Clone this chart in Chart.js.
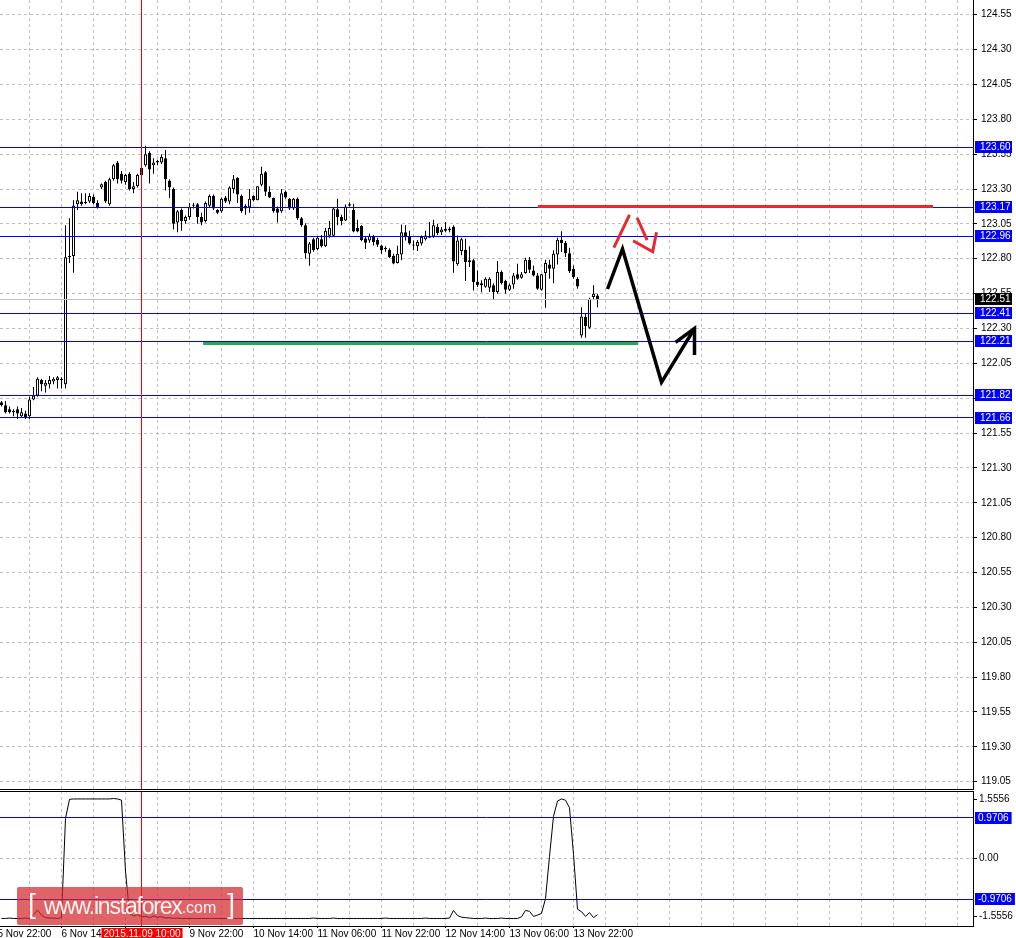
<!DOCTYPE html>
<html>
<head>
<meta charset="utf-8">
<title>USDJPY H1</title>
<script src="https://cdn.jsdelivr.net/npm/chart.js@4.4.0/dist/chart.umd.min.js"></script>
<style>
  html, body { margin: 0; padding: 0; background: #fff; }
  #wrap { position: relative; width: 1016px; height: 938px; overflow: hidden; }
  #priceBox { position: absolute; left: 0; top: 0; width: 1016px; height: 790px; }
  #indBox { position: absolute; left: 0; top: 790px; width: 1016px; height: 148px; }
  .stamp {
    position: absolute; left: 17px; top: 887px; width: 226px; height: 38px;
    background: rgba(212, 40, 44, 0.72); border-radius: 2px;
    color: #fff3f3; font-family: "Liberation Sans", Arial, sans-serif;
    display: flex; align-items: center; white-space: nowrap;
  }
  .stamp .br { font-size: 28px; font-weight: 300; margin: 0 8px 4px 11px; }
  .stamp .www { font-size: 23px; letter-spacing: -1.2px; }
  .stamp .com { font-size: 16px; margin-top: 4px; }
</style>
</head>
<body>
<div id="wrap">
  <div id="priceBox"><canvas id="priceChart"></canvas></div>
  <div id="indBox"><canvas id="indChart"></canvas></div>
  <div class="stamp"><span class="br">[</span><span class="www">www.instaforex</span><span class="com">.com</span><span class="br">]</span></div>
</div>
<script>
// hourly candles, 5 Nov 23:00 .. 16 Nov 04:00
const opens = [
  121.77,121.75,121.72,121.71,121.72,121.67,121.69,121.67,121.79,121.82,
  121.93,121.89,121.90,121.92,121.93,121.93,121.90,122.81,122.82,123.19,
  123.21,123.20,123.21,123.245,123.20,123.31,123.35,123.19,123.37,123.49,
  123.41,123.35,123.41,123.30,123.32,123.45,123.47,123.56,123.47,123.49,
  123.49,123.52,123.36,123.30,123.06,123.15,123.07,123.10,123.18,123.19,
  123.10,123.07,123.18,123.25,123.15,123.14,123.24,123.21,123.30,123.38,
  123.25,123.18,123.17,123.25,123.22,123.33,123.42,123.28,123.235,123.16,
  123.14,123.28,123.23,123.16,123.23,123.09,123.04,122.835,122.94,122.87,
  122.94,122.89,122.965,122.965,123.155,123.10,123.075,123.18,123.15,123.02,
  123.035,122.945,122.93,122.965,122.935,122.895,122.875,122.865,122.82,122.77,
  122.83,122.99,122.96,122.90,122.89,122.91,122.94,122.95,122.96,123.03,
  122.99,123.00,123.015,123.03,122.76,122.855,122.865,122.79,122.79,122.633,
  122.625,122.60,122.592,122.609,122.561,122.704,122.64,122.578,122.616,122.688,
  122.664,122.697,122.793,122.716,122.68,122.578,122.697,122.759,122.728,122.831,
  122.936,122.912,122.84,122.728,122.656,122.25,122.382,122.305,122.525,122.537
];
const highs = [
  121.78,121.78,121.74,121.72,121.74,121.73,121.71,121.81,121.88,121.95,
  121.94,121.93,121.96,121.95,121.96,121.95,123.04,123.09,123.22,123.28,
  123.27,123.27,123.27,123.26,123.22,123.34,123.36,123.38,123.48,123.50,
  123.43,123.41,123.42,123.35,123.41,123.46,123.61,123.57,123.52,123.51,
  123.55,123.58,123.37,123.31,123.15,123.16,123.11,123.20,123.20,123.20,
  123.13,123.21,123.26,123.26,123.155,123.24,123.25,123.32,123.40,123.385,
  123.26,123.19,123.30,123.255,123.32,123.46,123.43,123.32,123.24,123.175,
  123.30,123.29,123.235,123.235,123.24,123.10,123.055,122.92,122.95,122.955,
  122.97,123.02,123.07,123.17,123.23,123.115,123.19,123.205,123.195,123.08,
  123.04,122.955,122.98,122.97,122.95,122.90,122.89,122.875,122.835,122.893,
  123.045,123.04,123.00,122.93,122.935,122.967,123.00,123.063,123.08,123.05,
  123.027,123.063,123.03,123.04,122.967,122.95,122.943,122.89,122.80,122.716,
  122.645,122.668,122.668,122.625,122.783,122.716,122.649,122.621,122.697,122.764,
  122.704,122.807,122.812,122.752,122.697,122.692,122.793,122.793,122.86,122.95,
  122.998,122.927,122.879,122.752,122.668,122.453,122.406,122.52,122.609,122.549
];
const lows = [
  121.74,121.69,121.69,121.67,121.65,121.66,121.65,121.65,121.785,121.81,
  121.85,121.84,121.87,121.90,121.87,121.87,121.87,122.77,122.70,123.15,
  123.18,123.19,123.20,123.19,123.16,123.30,123.20,123.18,123.36,123.34,
  123.34,123.33,123.29,123.27,123.31,123.39,123.46,123.34,123.41,123.47,
  123.48,123.29,123.235,123.01,122.99,123.00,123.05,123.08,123.16,123.05,
  123.04,123.06,123.17,123.15,123.12,123.13,123.20,123.19,123.27,123.20,
  123.13,123.115,123.13,123.21,123.22,123.32,123.25,123.235,123.13,123.06,
  123.13,123.23,123.15,123.15,123.08,123.03,122.80,122.75,122.85,122.86,
  122.88,122.885,122.95,122.96,123.04,123.04,123.07,123.175,122.99,122.99,
  122.925,122.87,122.915,122.895,122.885,122.835,122.85,122.805,122.76,122.765,
  122.79,122.93,122.90,122.86,122.855,122.895,122.93,122.95,122.95,122.97,
  122.97,122.99,122.99,122.70,122.75,122.825,122.64,122.74,122.573,122.597,
  122.56,122.592,122.561,122.506,122.549,122.616,122.549,122.568,122.585,122.649,
  122.656,122.692,122.697,122.673,122.578,122.573,122.449,122.656,122.625,122.759,
  122.848,122.812,122.697,122.656,122.585,122.233,122.233,122.298,122.506,122.453
];
const closes = [
  121.75,121.70,121.70,121.70,121.69,121.70,121.66,121.79,121.82,121.94,
  121.90,121.91,121.93,121.94,121.95,121.94,122.81,122.82,123.18,123.22,
  123.19,123.205,123.25,123.20,123.17,123.335,123.21,123.37,123.47,123.37,
  123.36,123.40,123.30,123.32,123.40,123.40,123.55,123.44,123.49,123.50,
  123.53,123.37,123.31,123.05,123.14,123.07,123.10,123.17,123.185,123.10,
  123.06,123.20,123.25,123.16,123.13,123.23,123.21,123.31,123.37,123.26,
  123.14,123.16,123.23,123.22,123.32,123.41,123.28,123.24,123.14,123.13,
  123.27,123.24,123.16,123.23,123.09,123.04,122.84,122.91,122.86,122.95,
  122.89,123.00,123.02,123.16,123.10,123.07,123.175,123.19,122.995,122.995,
  122.935,122.915,122.965,122.92,122.90,122.86,122.87,122.81,122.765,122.835,
  122.99,122.96,122.91,122.895,122.92,122.955,122.967,122.965,123.04,122.985,
  123.01,123.015,123.005,122.78,122.93,122.94,122.775,122.776,122.633,122.609,
  122.609,122.656,122.656,122.561,122.704,122.625,122.578,122.609,122.68,122.656,
  122.688,122.793,122.721,122.68,122.585,122.688,122.769,122.728,122.836,122.936,
  122.912,122.84,122.711,122.668,122.601,122.386,122.315,122.513,122.549,122.506
];
// lower oscillator, one value per candle
const oscillator = [
  -1.42,-1.42,-1.41,-1.42,-1.42,-1.42,-1.41,-1.42,-1.33,-1.22,
  -1.34,-1.40,-1.41,-1.41,-1.42,-1.40,0.95,1.40,1.41,1.41,
  1.41,1.41,1.41,1.41,1.41,1.41,1.41,1.41,1.42,1.41,
  1.38,-0.30,-1.30,-1.36,-1.33,-1.38,-1.37,-1.40,-1.36,-1.39,
  -1.38,-1.41,-1.40,-1.42,-1.41,-1.42,-1.42,-1.42,-1.42,-1.42,
  -1.42,-1.42,-1.42,-1.42,-1.42,-1.42,-1.42,-1.42,-1.42,-1.42,
  -1.42,-1.42,-1.42,-1.42,-1.42,-1.42,-1.42,-1.42,-1.42,-1.42,
  -1.42,-1.42,-1.42,-1.42,-1.42,-1.42,-1.42,-1.42,-1.41,-1.42,
  -1.42,-1.42,-1.42,-1.41,-1.42,-1.42,-1.42,-1.42,-1.42,-1.42,
  -1.42,-1.42,-1.42,-1.42,-1.42,-1.42,-1.41,-1.42,-1.42,-1.42,
  -1.42,-1.42,-1.42,-1.42,-1.42,-1.42,-1.41,-1.42,-1.42,-1.42,
  -1.42,-1.42,-1.41,-1.23,-1.35,-1.39,-1.40,-1.41,-1.42,-1.42,
  -1.42,-1.41,-1.42,-1.42,-1.42,-1.41,-1.42,-1.42,-1.42,-1.42,
  -1.38,-1.23,-1.25,-1.37,-1.34,-1.30,-0.95,0.05,1.00,1.36,
  1.41,1.38,1.20,0.10,-1.20,-1.26,-1.37,-1.28,-1.40,-1.33
];

const priceTicks = [119.05,119.30,119.55,119.80,120.05,120.30,120.55,120.80,121.05,121.30,121.55,
  121.80,122.05,122.30,122.55,122.80,123.05,123.30,123.55,123.80,124.05,124.30,124.55];
const levels = [123.60, 123.17, 122.96, 122.41, 122.21, 121.82, 121.66];
const lastPrice = 122.51;
const oscLevels = [0.9706, -0.9706];
const oscTickText = ['1.5556', '0.00', '-1.5556'];
const oscTickAt = [1.40, 0, -1.37];
const timeLabels = ['5 Nov 22:00','6 Nov 14:00','9 Nov 06:00','9 Nov 22:00','10 Nov 14:00',
  '11 Nov 06:00','11 Nov 22:00','12 Nov 14:00','13 Nov 06:00','13 Nov 22:00'];
const timeLabelBars = [-1, 15, 31, 47, 63, 79, 95, 111, 127, 143];
const crossBar = 35;
const crossText = '2015.11.09 10:00';

// drawn objects, in (bar, price)
const redLevel = { from: 134.1, to: 232.9, price: 123.178 };
const greenLevel = { from: 50.4, to: 159.2, price: 122.195 };
const blackPath = [[151.5,122.583],[155.25,122.87],[165,121.914],[173.25,122.30]];
const blackHead = [[168.5,122.20],[173.25,122.30],[173.25,122.11]];
const redPaths = [
  [[153.1,122.879],[157,123.114]],
  [[158.9,123.094],[161.4,122.934]],
  [[157.9,122.929],[162.8,122.85],[163.75,122.99]]
];

// view window: 4px per bar
const X_MIN = -0.375, X_MAX = 242.875;
const P_MIN = 118.9975, P_MAX = 124.6554;
const O_MIN = -1.598, O_MAX = 1.598;
const gridBars = [];
for (let b = -1; b <= 239; b += 8) gridBars.push(b);

Chart.defaults.font.family = '"Liberation Sans", Arial, sans-serif';
Chart.defaults.font.size = 10;
Chart.defaults.color = '#000';

const idx = opens.map((_, i) => i);
const pts = arr => arr.map(p => ({ x: p[0], y: p[1] }));
const lineSet = (data, color, width, order, crisp) => ({
  type: 'line', data, borderColor: color, borderWidth: width, pointRadius: 0,
  fill: false, tension: 0, order, borderCapStyle: 'butt', borderJoinStyle: 'miter',
  crisp: !!crisp
});
const hLine = (price, from, to, color, width, order) =>
  lineSet([{ x: from, y: price }, { x: to, y: price }], color, width, order, true);

// snap horizontal object lines onto whole pixels, like the terminal does
const crispLines = {
  id: 'crispLines',
  beforeDatasetDraw(chart, args) {
    if (!chart.data.datasets[args.index].crisp) return;
    const y = args.meta.data[0].y;
    chart.ctx.save();
    chart.ctx.translate(0, Math.round(y - 0.5) + 0.5 - y);
  },
  afterDatasetDraw(chart, args) {
    if (chart.data.datasets[args.index].crisp) chart.ctx.restore();
  }
};

const priceSets = [
  {
    type: 'bar', data: idx.map(i => ({ x: i, y: [lows[i], highs[i]] })),
    backgroundColor: '#000', borderWidth: 0, barThickness: 1,
    grouped: false, inflateAmount: 0, order: 6
  },
  {
    type: 'bar', data: idx.map(i => ({ x: i, y: [opens[i], closes[i]] })),
    backgroundColor: idx.map(i => closes[i] >= opens[i] ? '#fff' : '#000'),
    borderColor: '#000', borderWidth: 1, borderSkipped: false, barThickness: 3,
    grouped: false, inflateAmount: 0, minBarLength: 1, order: 5
  },
  hLine(lastPrice, -1, 244, '#c0c0c0', 1, 4),
  hLine(greenLevel.price, greenLevel.from, greenLevel.to, '#2aa84f', 3, 3)
];
levels.forEach(p => priceSets.push(hLine(p, -1, 244, '#0000ff', 1, 2)));
priceSets.push(hLine(redLevel.price, redLevel.from, redLevel.to, '#e8282c', 3, 1));
priceSets.push(lineSet([{ x: crossBar, y: P_MIN }, { x: crossBar, y: P_MAX }], '#ff0000', 1, 0));
priceSets.push(lineSet(pts(blackPath), '#000', 3.5, 0));
priceSets.push(lineSet(pts(blackHead), '#000', 3.5, 0));
redPaths.forEach(p => priceSets.push(lineSet(pts(p), '#e8282c', 3, 0)));

const priceTags = {
  id: 'priceTags',
  afterDraw(chart) {
    const { ctx, scales: { y } } = chart;
    ctx.save();
    ctx.font = '10px "Liberation Sans", Arial, sans-serif';
    ctx.textBaseline = 'middle';
    const tag = (value, bg) => {
      const py = Math.round(y.getPixelForValue(value));
      ctx.fillStyle = bg;
      ctx.fillRect(y.left + 2, py - 6, 37, 12);
      ctx.fillStyle = '#fff';
      ctx.fillText(value.toFixed(2), y.left + 7, py + 0.5);
    };
    levels.forEach(v => tag(v, '#0000ff'));
    tag(lastPrice, '#000');
    ctx.restore();
  }
};

new Chart(document.getElementById('priceChart'), {
  type: 'bar',
  data: { datasets: priceSets },
  options: {
    responsive: true, maintainAspectRatio: false, animation: false, events: [],
    layout: { padding: { left: 0, right: 0, top: 0, bottom: 1 } },
    plugins: { legend: { display: false }, tooltip: { enabled: false } },
    scales: {
      x: {
        type: 'linear', min: X_MIN, max: X_MAX, offset: false,
        afterBuildTicks: s => { s.ticks = gridBars.map(v => ({ value: v })); },
        afterFit: s => { s.height = 0; s.paddingLeft = 0; s.paddingRight = 0; },
        ticks: { display: false },
        grid: { color: '#c0c0c0', drawTicks: false, offset: false },
        border: { display: true, color: '#000', dash: [3, 3] }
      },
      y: {
        type: 'linear', position: 'right', min: P_MIN, max: P_MAX,
        afterBuildTicks: s => { s.ticks = priceTicks.map(v => ({ value: v })); },
        afterFit: s => { s.width = 43; s.paddingTop = 0; s.paddingBottom = 0; },
        ticks: { autoSkip: false, padding: 4, callback: v => v.toFixed(2) },
        grid: { color: '#c0c0c0', tickColor: '#000', tickLength: 4, tickBorderDash: [] },
        border: { display: true, color: '#000', dash: [3, 3] }
      }
    }
  },
  plugins: [crispLines, priceTags]
});

// oscillator panel
const oscSets = [
  lineSet(idx.map(i => ({ x: i, y: oscillator[i] })), '#000', 1, 1)
];
oscLevels.forEach(v => oscSets.push(hLine(v, -1, 244, '#0000ff', 1, 2)));
oscSets.push(lineSet([{ x: crossBar, y: O_MIN }, { x: crossBar, y: O_MAX }], '#ff0000', 1, 0));

const oscTags = {
  id: 'oscTags',
  afterDraw(chart) {
    const { ctx, chartArea, scales: { x, y } } = chart;
    ctx.save();
    ctx.fillStyle = '#000';
    ctx.fillRect(0, chartArea.top, chartArea.right + 1, 1);
    ctx.font = '10px "Liberation Sans", Arial, sans-serif';
    ctx.textBaseline = 'middle';
    oscLevels.forEach(v => {
      const py = Math.round(y.getPixelForValue(v));
      const text = v.toFixed(4);
      const w = ctx.measureText(text).width + 6;
      ctx.fillStyle = '#0000ff';
      ctx.fillRect(y.left + 2, py - 6, w, 12);
      ctx.fillStyle = '#fff';
      ctx.fillText(text, y.left + 5, py + 0.5);
    });
    const cx = Math.round(x.getPixelForValue(crossBar));
    const w = ctx.measureText(crossText).width + 4;
    ctx.fillStyle = '#ff0000';
    ctx.fillRect(cx - w / 2, chartArea.bottom + 2, w, 12);
    ctx.fillStyle = '#fff';
    ctx.textAlign = 'center';
    ctx.fillText(crossText, cx, chartArea.bottom + 8);
    ctx.restore();
  }
};

new Chart(document.getElementById('indChart'), {
  type: 'line',
  data: { datasets: oscSets },
  options: {
    responsive: true, maintainAspectRatio: false, animation: false, events: [],
    layout: { padding: { left: 0, right: 0, top: 1, bottom: 0 } },
    plugins: { legend: { display: false }, tooltip: { enabled: false } },
    scales: {
      x: {
        type: 'linear', min: X_MIN, max: X_MAX, offset: false,
        afterBuildTicks: s => { s.ticks = gridBars.map(v => ({ value: v })); },
        afterFit: s => { s.height = 12; s.paddingLeft = 0; s.paddingRight = 0; },
        ticks: {
          autoSkip: false, maxRotation: 0, minRotation: 0, align: 'start', padding: 0,
          callback: v => { const k = timeLabelBars.indexOf(v); return k >= 0 ? timeLabels[k] : ''; }
        },
        grid: {
          color: '#c0c0c0', drawTicks: true, tickLength: 2, tickBorderDash: [],
          tickColor: c => (c.tick && timeLabelBars.includes(c.tick.value)) ? '#000' : 'rgba(0,0,0,0)'
        },
        border: { display: true, color: '#000', dash: [3, 3] }
      },
      y: {
        type: 'linear', position: 'right', min: O_MIN, max: O_MAX,
        afterBuildTicks: s => { s.ticks = oscTickAt.map(v => ({ value: v })); },
        afterFit: s => { s.width = 43; s.paddingTop = 0; s.paddingBottom = 0; },
        ticks: { autoSkip: false, padding: 2, callback: (v, i) => oscTickText[i] },
        grid: {
          color: c => (c.tick && c.tick.value === 0) ? '#c0c0c0' : 'rgba(0,0,0,0)',
          tickColor: '#000', tickLength: 4, tickBorderDash: []
        },
        border: { display: true, color: '#000', dash: [3, 3] }
      }
    }
  },
  plugins: [crispLines, oscTags]
});
</script>
</body>
</html>
